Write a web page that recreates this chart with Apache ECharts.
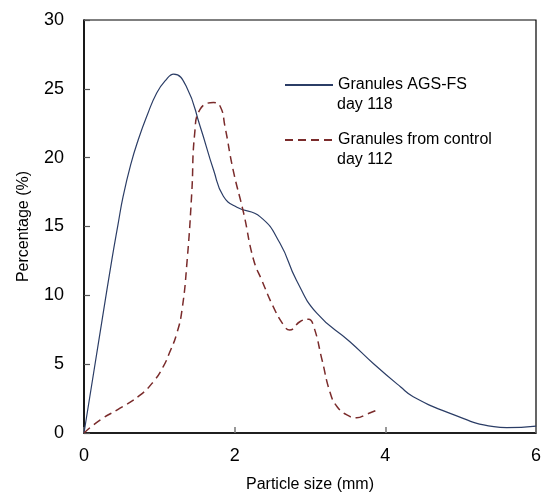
<!DOCTYPE html>
<html>
<head>
<meta charset="utf-8">
<script src="https://cdn.jsdelivr.net/npm/echarts@6/dist/echarts.min.js"></script>
<style>html,body{margin:0;padding:0;background:#fff}#c{width:549px;height:499px}</style>
</head>
<body>
<div id="c"></div>
<script>
var agsX = [0, 0.24, 0.37, 0.45, 0.52, 0.62, 0.72, 0.84, 0.965, 1.08, 1.19, 1.36, 1.54, 1.72, 1.85, 2.03, 2.34, 2.6, 2.82, 3.09, 3.53, 3.84, 4.2, 4.37, 4.86, 5.44, 5.61, 6.0];
var agsY = [0, 8.2, 12.6, 15.1, 17.2, 19.5, 21.3, 23.1, 24.7, 25.6, 26.07, 25.15, 22.3, 19.1, 17.2, 16.4, 15.7, 13.8, 11.1, 8.7, 6.63, 5.05, 3.36, 2.64, 1.43, 0.46, 0.39, 0.5];
var ctrlX = [0, 0.212, 0.478, 0.744, 0.92, 1.05, 1.14, 1.23, 1.3, 1.37, 1.43, 1.47, 1.54, 1.72, 1.81, 1.87, 1.98, 2.12, 2.25, 2.36, 2.51, 2.65, 2.73, 2.87, 2.98, 3.05, 3.16, 3.27, 3.36, 3.49, 3.62, 3.75, 3.91];
var ctrlY = [0, 0.94, 1.8, 2.75, 3.72, 4.8, 5.9, 7.2, 8.9, 12.6, 17.4, 21.8, 23.5, 24.0, 23.7, 22.3, 19.1, 15.95, 12.6, 11.1, 9.2, 7.84, 7.48, 8.1, 8.26, 7.72, 5.3, 2.88, 1.91, 1.31, 1.11, 1.36, 1.72];
var xTicks = [0, 2, 4, 6];
var yTicks = [0, 5, 10, 15, 20, 25, 30];
var names = ['Granules AGS-FS', 'Granules from control'];
var secondLines = ['day 118', 'day 112'];

function pairs(xs, ys) { return xs.map(function (x, i) { return [x, ys[i]]; }); }

var chart = echarts.init(document.getElementById('c'));
var font = 'Liberation Sans, Arial, sans-serif';
chart.setOption({
  animation: false,
  backgroundColor: '#fff',
  grid: { left: 84, right: 13, top: 20, bottom: 66, show: true, borderColor: '#000', borderWidth: 1.2, backgroundColor: 'transparent' },
  xAxis: {
    type: 'value', min: xTicks[0], max: xTicks[xTicks.length - 1], interval: 2,
    name: 'Particle size (mm)', nameLocation: 'middle', nameGap: 44,
    nameTextStyle: { fontFamily: font, fontSize: 16, color: '#000' },
    axisLine: { show: true, lineStyle: { color: '#000', width: 1.5 } },
    axisTick: { show: true, inside: true, length: 6, lineStyle: { color: '#777', width: 1.5 } },
    axisLabel: { fontFamily: font, fontSize: 18, color: '#000', margin: 14 },
    splitLine: { show: false }
  },
  yAxis: {
    type: 'value', min: yTicks[0], max: yTicks[yTicks.length - 1], interval: 5,
    name: 'Percentage (%)', nameLocation: 'middle', nameGap: 52,
    nameTextStyle: { fontFamily: font, fontSize: 16, color: '#000' },
    axisLine: { show: true, lineStyle: { color: '#000', width: 1.5 } },
    axisTick: { show: true, inside: true, length: 6, lineStyle: { color: '#555', width: 1.2 } },
    axisLabel: { fontFamily: font, fontSize: 18, color: '#000', margin: 20 },
    splitLine: { show: false }
  },
  legend: {
    orient: 'vertical', left: 279, top: 70, itemGap: 35, itemWidth: 48, itemHeight: 20,
    itemStyle: { opacity: 0 },
    textStyle: { fontFamily: font, fontSize: 16, color: '#000', lineHeight: 20 },
    data: names
  },
  graphic: [
    { type: 'text', x: 337, y: 105, style: { text: secondLines[0], fontFamily: font, fontSize: 16, fill: '#000', verticalAlign: 'middle' } },
    { type: 'text', x: 337, y: 160, style: { text: secondLines[1], fontFamily: font, fontSize: 16, fill: '#000', verticalAlign: 'middle' } }
  ],
  series: [
    {
      name: names[0], type: 'line', smooth: 0.5, symbol: 'none', showSymbol: false,
      data: pairs(agsX, agsY),
      lineStyle: { color: '#2b3d66', width: 1.2 }, itemStyle: { color: '#2b3d66' }
    },
    {
      name: names[1], type: 'line', smooth: 0.5, symbol: 'none', showSymbol: false,
      data: pairs(ctrlX, ctrlY),
      lineStyle: { color: '#7a2b2b', width: 1.5, type: [8, 5] }, itemStyle: { color: '#7a2b2b' }
    }
  ]
});
</script>
</body>
</html>
